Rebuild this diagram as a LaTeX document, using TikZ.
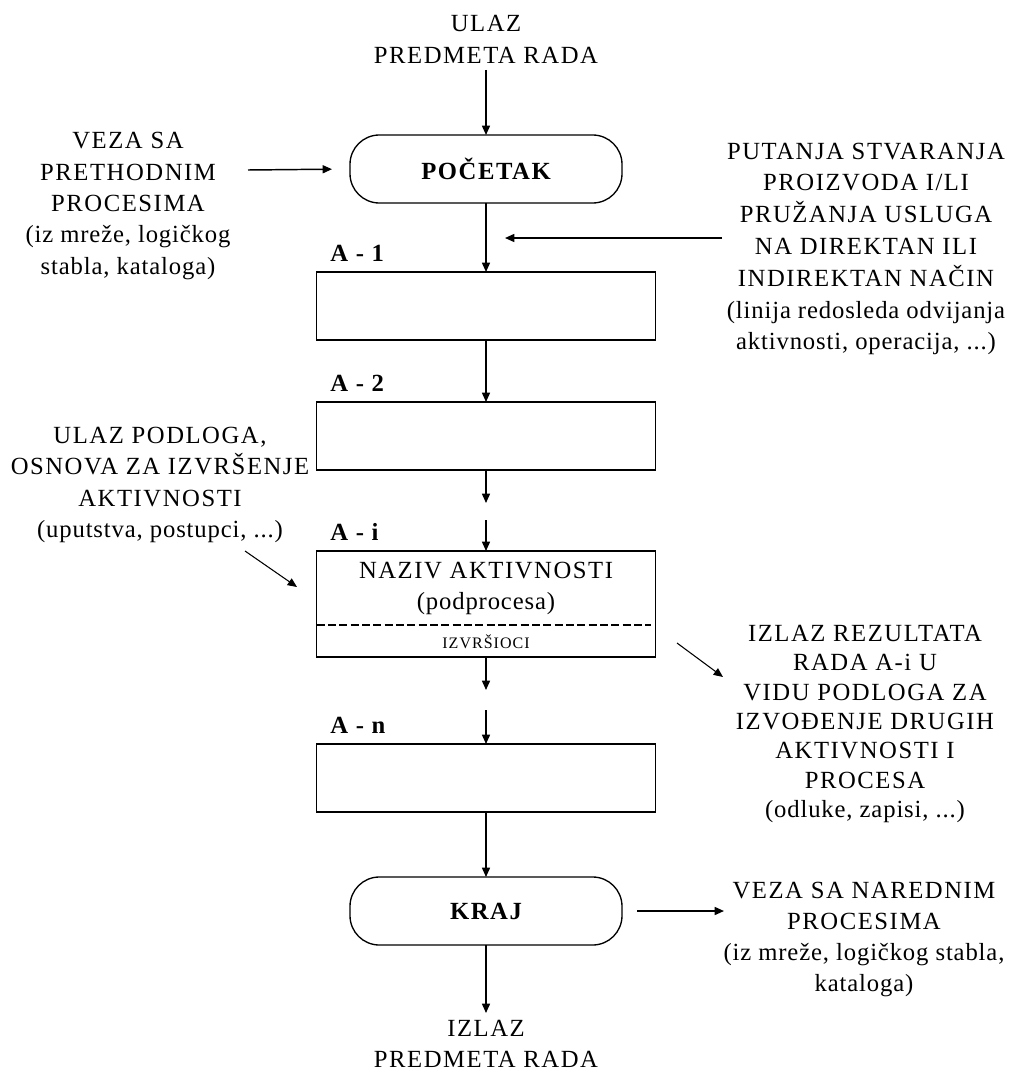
\documentclass[tikz,border=0pt]{standalone}
\usepackage{fontspec}
\setmainfont{Liberation Serif}[LetterSpace=6.3]
\usetikzlibrary{positioning,arrows.meta}

\newcommand{\diagfont}{\fontsize{18.5}{23.6}\selectfont}
\newcommand{\sub}[1]{{\addfontfeature{LetterSpace=3.5}#1}}
\tikzstyle{terminal} = [rectangle, rounded corners=22pt, draw=black, line width=1pt, outer sep=0pt, minimum width=204pt, minimum height=51pt, inner sep=0pt, font=\diagfont\bfseries]
\tikzstyle{process} = [rectangle, draw=black, line width=1pt, outer sep=0pt, minimum width=254pt, minimum height=51pt, inner sep=0pt]
\tikzstyle{sidetext} = [align=center, inner sep=0pt, font=\diagfont]
\tikzstyle{steplabel} = [inner sep=0pt, font=\diagfont\bfseries]
\tikzstyle{arrow} = [line width=1.1pt,->,>={Triangle[length=7pt,width=6pt]}]
\tikzstyle{split} = [line width=1pt, dash pattern=on 6pt off 2.5pt]

\begin{document}
\begin{tikzpicture}[x=0.75pt, y=-0.75pt]

\useasboundingbox (0,0) rectangle (1008,1074);

% main column
\node (start) [terminal] at (486,169) {POČETAK};
\node (ulaz) [sidetext, inner sep=5pt, above=48.75pt of start] {ULAZ\\PREDMETA RADA};
\node (box1) [process, below=51.75pt of start] {};
\node (box2) [process, below=46.5pt of box1] {};
\node (boxi) [process, below=60.75pt of box2, minimum height=79.5pt] {};
\node (boxn) [process, below=65.25pt of boxi] {};
\node (end) [terminal, below=48.75pt of boxn] {KRAJ};
\node (izlaz) [sidetext, inner sep=5pt, below=51pt of end] {IZLAZ\\PREDMETA RADA};

\node (lab1) [steplabel, above right=7.5pt and 10pt of box1.north west] {A - 1};
\node (lab2) [steplabel, above right=7.5pt and 10pt of box2.north west] {A - 2};
\node (labi) [steplabel, above right=7.5pt and 10pt of boxi.north west] {A - i};
\node (labn) [steplabel, above right=7.5pt and 10pt of boxn.north west] {A - n};

% inside A-i
\node (naziv) [sidetext, below=8pt of boxi.north] {NAZIV AKTIVNOSTI\\\sub{(podprocesa)}};
\node (izvrs) [inner sep=0pt, font=\fontsize{12}{14}\selectfont] at ([yshift=11.25pt]boxi.south) {IZVRŠIOCI};
\draw [split] ([yshift=24pt]boxi.south west) -- ([yshift=24pt,xshift=-3pt]boxi.south east);

% side texts
\node (veza1) [sidetext] at (128,206) {VEZA SA\\PRETHODNIM\\PROCESIMA\\\sub{(iz mreže, logičkog}\\\sub{stabla, kataloga)}};
\node (putanja) [sidetext, font=\fontsize{18.5}{23.85}\selectfont] at (866,249) {PUTANJA STVARANJA\\PROIZVODA I/LI\\PRUŽANJA USLUGA\\NA DIREKTAN ILI\\INDIREKTAN NAČIN\\\sub{(linija redosleda odvijanja}\\\sub{aktivnosti, operacija, ...)}};
\node (podloga) [sidetext] at (160,485) {ULAZ PODLOGA,\\OSNOVA ZA IZVRŠENJE\\AKTIVNOSTI\\\sub{(uputstva, postupci, ...)}};
\node (rezultat) [sidetext, font=\fontsize{18.5}{22.1}\selectfont] at (865,724) {IZLAZ REZULTATA\\RADA A-i U\\VIDU PODLOGA ZA\\IZVOĐENJE DRUGIH\\AKTIVNOSTI I\\PROCESA\\\sub{(odluke, zapisi, ...)}};
\node (veza2) [sidetext, font=\fontsize{18.5}{23.25}\selectfont] at (864,939) {VEZA SA NAREDNIM\\PROCESIMA\\\sub{(iz mreže, logičkog stabla,}\\\sub{kataloga)}};

% free ends
\coordinate (v1) at (248,170);
\coordinate (p1) at (722,238);
\coordinate (p2) at (505,238);
\coordinate (u1) at (245,551);
\coordinate (u2) at (297,587);
\coordinate (r1) at (677,643);
\coordinate (r2) at (723,677);
\coordinate [right=76.5pt of end] (k2);
\coordinate [below=24.75pt of box2] (g1a);
\coordinate [above=23.25pt of boxi] (g1b);
\coordinate [below=24.75pt of boxi] (g2a);
\coordinate [above=25.5pt of boxn] (g2b);

\draw [arrow] (ulaz) -- (start);
\draw [arrow] (start) -- (box1);
\draw [arrow] (box1) -- (box2);
\draw [arrow] (box2) -- (g1a);
\draw [arrow] (g1b) -- (boxi);
\draw [arrow] (boxi) -- (g2a);
\draw [arrow] (g2b) -- (boxn);
\draw [arrow] (boxn) -- (end);
\draw [arrow] (end) -- (izlaz);
\draw [arrow, shorten >=13.5pt] (v1) -- (start.west);
\draw [arrow] (p1) -- (p2);
\draw [arrow, line width=0.8pt] (u1) -- (u2);
\draw [arrow, line width=0.8pt] (r1) -- (r2);
\draw [arrow, shorten <=11.25pt] (end.east) -- (k2);

\end{tikzpicture}
\end{document}
